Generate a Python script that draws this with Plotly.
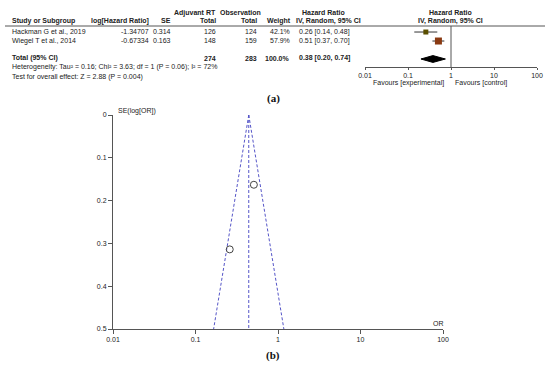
import plotly.graph_objects as go
import numpy as np

# ---- data ----
studies = ["Hackman G et al., 2019", "Wiegel T et al., 2014"]
log_hr = [-1.34707, -0.67334]
se = [0.314, 0.163]
total_rt = [126, 148]
total_obs = [124, 159]
weight = ["42.1%", "57.9%"]
hr = [0.26, 0.51]
hr_lo = [0.14, 0.37]
hr_hi = [0.48, 0.70]
hr_text = ["0.26 [0.14, 0.48]", "0.51 [0.37, 0.70]"]
pooled_hr = 0.38
pooled_lo = 0.20
pooled_hi = 0.74
pooled_text = "0.38 [0.20, 0.74]"
total_rt_sum = 274
total_obs_sum = 283
fixed_or = 0.442  # funnel centre
se_max = 0.5
forest_ticks = [0.01, 0.1, 1, 10, 100]
forest_ticklabels = ["0.01", "0.1", "1", "10", "100"]
funnel_yticks = [0, 0.1, 0.2, 0.3, 0.4, 0.5]
funnel_yticklabels = ["0", "0.1", "0.2", "0.3", "0.4", "0.5"]

W, H = 550, 365
def px(x): return x / W
def py(y): return 1 - y / H

FONT = "Liberation Sans, Arial, sans-serif"
TXT = "#222222"
AX = "#555555"

fig = go.Figure()

# ---- forest plot ----
rows = [1, 2]
sq_colors = ["#5a4e00", "#8a3a12"]
sq_sizes = [5, 7]
for i in range(2):
    fig.add_trace(go.Scatter(
        x=[hr[i]], y=[rows[i]], mode="markers",
        marker=dict(symbol="square", size=sq_sizes[i], color=sq_colors[i],
                    line=dict(width=0)),
        error_x=dict(type="data", symmetric=False,
                     array=[hr_hi[i] - hr[i]], arrayminus=[hr[i] - hr_lo[i]],
                     color="#333333", thickness=1, width=0),
        xaxis="x", yaxis="y", showlegend=False, hoverinfo="skip"))
# diamond
fig.add_trace(go.Scatter(
    x=[pooled_lo, pooled_hr, pooled_hi, pooled_hr, pooled_lo],
    y=[4, 3.62, 4, 4.38, 4], mode="lines", fill="toself",
    fillcolor="black", line=dict(color="black", width=1),
    xaxis="x", yaxis="y", showlegend=False, hoverinfo="skip"))

# ---- funnel plot ----
se_grid = [0.0, se_max]
lo_line = [np.exp(np.log(fixed_or) - 1.96 * s) for s in se_grid]
hi_line = [np.exp(np.log(fixed_or) + 1.96 * s) for s in se_grid]
dash_style = dict(color="#5555c8", width=1, dash="3px,2px")
fig.add_trace(go.Scatter(x=lo_line, y=se_grid, mode="lines", line=dash_style,
                         xaxis="x2", yaxis="y2", showlegend=False, hoverinfo="skip"))
fig.add_trace(go.Scatter(x=hi_line, y=se_grid, mode="lines", line=dash_style,
                         xaxis="x2", yaxis="y2", showlegend=False, hoverinfo="skip"))
fig.add_trace(go.Scatter(x=[fixed_or, fixed_or], y=se_grid, mode="lines", line=dash_style,
                         xaxis="x2", yaxis="y2", showlegend=False, hoverinfo="skip"))
fig.add_trace(go.Scatter(x=hr, y=se, mode="markers",
                         marker=dict(symbol="circle-open", size=7, color="#444444",
                                     line=dict(width=1)),
                         xaxis="x2", yaxis="y2", showlegend=False, hoverinfo="skip",
                         cliponaxis=False))

tickfont = dict(family=FONT, size=7, color=TXT)
fig.update_layout(
    width=W, height=H, margin=dict(l=0, r=0, t=0, b=0, pad=0), autosize=False,
    paper_bgcolor="white", plot_bgcolor="white",
    xaxis=dict(type="log", range=[-2, 2], domain=[px(365), px(537)],
               anchor="y", showgrid=False, zeroline=False,
               showline=True, linecolor=AX, linewidth=1,
               ticks="outside", ticklen=2, tickcolor=AX,
               tickvals=forest_ticks, ticktext=forest_ticklabels,
               tickfont=tickfont, automargin=False),
    yaxis=dict(range=[4.89, 0.33], domain=[py(67), py(26)], anchor="x",
               visible=False, showgrid=False, zeroline=False, automargin=False),
    xaxis2=dict(type="log", range=[-2, 2], domain=[px(113), px(443)],
                anchor="y2", showgrid=False, zeroline=False,
                showline=True, linecolor=AX, linewidth=1,
                ticks="outside", ticklen=4, tickcolor=AX,
                tickvals=forest_ticks, ticktext=forest_ticklabels,
                tickfont=tickfont, automargin=False),
    yaxis2=dict(range=[0.5, 0], domain=[py(329), py(115)], anchor="x2",
                showgrid=False, zeroline=False,
                showline=True, linecolor=AX, linewidth=1,
                ticks="outside", ticklen=4, tickcolor=AX,
                tickvals=funnel_yticks, ticktext=funnel_yticklabels,
                tickfont=tickfont, automargin=False),
)

# vertical line at HR = 1
fig.add_shape(type="line", xref="x", yref="y domain", x0=1, x1=1, y0=0, y1=1,
              line=dict(color=AX, width=1))
# header line
fig.add_shape(type="line", xref="paper", yref="paper", x0=px(5), x1=px(545),
              y0=py(26), y1=py(26), line=dict(color=AX, width=1))

def txt(x, y, s, anchor="left", bold=False, size=7, family=FONT, color=TXT):
    fig.add_annotation(x=px(x), y=py(y), xref="paper", yref="paper",
                       text=("<b>%s</b>" % s) if bold else s, showarrow=False,
                       xanchor=anchor, yanchor="middle",
                       font=dict(family=family, size=size, color=color))

# headers
txt(195, 13, "Adjuvant RT", "center", True)
txt(240, 13, "Observation", "center", True)
txt(323, 13, "Hazard Ratio", "center", True)
txt(450, 13, "Hazard Ratio", "center", True)
txt(10, 21, "Study or Subgroup", "left", True)
txt(151, 21, "log[Hazard Ratio]", "right", True)
txt(173, 21, "SE", "right", True)
txt(218, 21, "Total", "right", True)
txt(259, 21, "Total", "right", True)
txt(293, 21, "Weight", "right", True)
txt(328, 21, "IV, Random, 95% CI", "center", True)
txt(450, 21, "IV, Random, 95% CI", "center", True)

row_y = [32, 41]
for i in range(2):
    y = row_y[i]
    txt(10, y, studies[i])
    txt(151, y, "%.5f" % log_hr[i], "right")
    txt(173, y, "%.3f" % se[i], "right")
    txt(218, y, str(total_rt[i]), "right")
    txt(259, y, str(total_obs[i]), "right")
    txt(292, y, weight[i], "right")
    txt(297, y, hr_text[i], "left")

txt(10, 58, "Total (95% CI)", "left", True)
txt(218, 58, str(total_rt_sum), "right", True)
txt(259, 58, str(total_obs_sum), "right", True)
txt(292, 58, "100.0%", "right", True)
txt(297, 58, pooled_text, "left", True)
txt(10, 67, "Heterogeneity: Tau² = 0.16; Chi² = 3.63; df = 1 (P = 0.06); I² = 72%")
txt(10, 77, "Test for overall effect: Z = 2.88 (P = 0.004)")
txt(446, 83, "Favours [experimental]", "right")
txt(453, 83, "Favours [control]", "left")

# funnel labels
txt(116, 111, "SE(log[OR])", "left")
txt(438, 323, "OR", "center")

# panel labels
txt(273, 98, "(a)", "center", True, 11, "Liberation Serif, Times New Roman, serif", "#111111")
txt(273, 355, "(b)", "center", True, 11, "Liberation Serif, Times New Roman, serif", "#111111")

fig.write_html(
    "out.html",
    config={"displayModeBar": False},
    post_script="document.body.style.margin='0';document.body.style.overflow='hidden';",
)
